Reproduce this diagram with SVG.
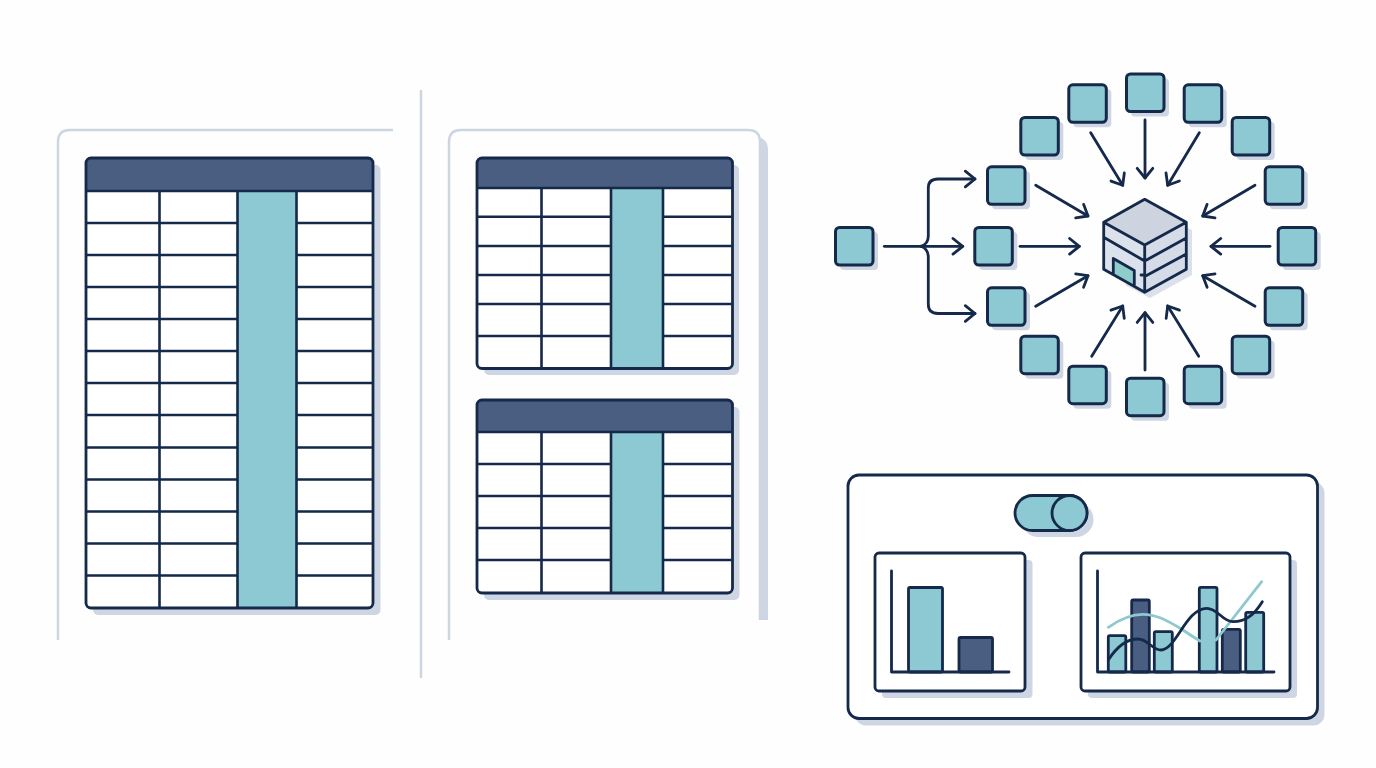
<svg xmlns="http://www.w3.org/2000/svg" width="1376" height="768" viewBox="0 0 1376 768">
<style>
.ink{stroke:#15294b;stroke-width:2.800;stroke-linejoin:round;stroke-linecap:round}
.n{fill:#8cc9d2;stroke:#15294b;stroke-width:3}
.s{fill:#cfd6e3;stroke:none}
.teal{fill:#8cc9d2}.dark{fill:#4a5e82}.white{fill:#fff}
.guide{fill:none;stroke:#cdd5e0;stroke-width:2.500}
.c{fill:none;stroke:#15294b;stroke-width:2.800;stroke-linecap:round;stroke-linejoin:round}
.g{fill:none;stroke:#15294b;stroke-width:2.600;stroke-linecap:butt}
</style>
<defs>
<marker id="a" markerUnits="userSpaceOnUse" markerWidth="24" markerHeight="24" refX="12" refY="12" orient="auto" overflow="visible"><path d="M2.300 4.200L12 12L2.300 19.800" fill="none" stroke="#15294b" stroke-width="2.800" stroke-linecap="round" stroke-linejoin="round"/></marker>
<g id="node"><rect class="s" x="-14" y="-14" width="38" height="38" rx="4"/><rect class="n" x="-18.500" y="-18.500" width="37.500" height="37.500" rx="4"/></g>
</defs>
<rect width="1376" height="768" fill="#fefefe"/>
<g id="guides">
<path class="guide" d="M58 640V142Q58 130 70 130H393"/>
<path class="guide" d="M421 90V678"/>
<path class="s" d="M758 137Q768 139 768 150V620H759V137Z"/>
<path class="guide" d="M449 640V142Q449 130 461 130H748Q760 130 760 142V620"/>
</g>
<g id="table-left">
<rect class="s" x="93" y="165" width="287.500" height="450" rx="5"/>
<rect class="white" x="86" y="158" width="287" height="450" rx="5"/>
<rect class="teal" x="237.500" y="191" width="59" height="417"/>
<path class="dark" d="M86 191V163a5 5 0 0 1 5-5H368a5 5 0 0 1 5 5V191Z"/>
<path class="g" d="M86 191H373M86 223H237M86 255H237M86 287H237M86 319H237M86 351H237M86 383H237M86 415H237M86 447.500H237M86 479.500H237M86 511.500H237M86 543.500H237M86 575.500H237M297 223H373M297 255H373M297 287H373M297 319H373M297 351H373M297 383H373M297 415H373M297 447.500H373M297 479.500H373M297 511.500H373M297 543.500H373M297 575.500H373M159.500 191V608M237.500 191V608M296.500 191V608"/>
<rect class="c" x="86" y="158" width="287" height="450" rx="5"/>
</g>
<g id="table-top">
<rect class="s" x="484" y="165" width="255" height="210" rx="5"/>
<rect class="white" x="477" y="158" width="255.500" height="210.500" rx="5"/>
<rect class="teal" x="611" y="188" width="52" height="180"/>
<path class="dark" d="M477 188V163a5 5 0 0 1 5-5H727.500a5 5 0 0 1 5 5V188Z"/>
<path class="g" d="M477 188H732.500M477 216.700H611M477 246H611M477 275H611M477 304H611M477 336H611M663 216.700H732.500M663 246H732.500M663 275H732.500M663 304H732.500M663 336H732.500M541.500 188V368.500M611 188V368.500M663 188V368.500"/>
<rect class="c" x="477" y="158" width="255.500" height="210.500" rx="5"/>
</g>
<g id="table-bottom">
<rect class="s" x="484" y="407" width="255.500" height="193" rx="5"/>
<rect class="white" x="477" y="400" width="255.500" height="193" rx="5"/>
<rect class="teal" x="611" y="432" width="52" height="161"/>
<path class="dark" d="M477 432V405a5 5 0 0 1 5-5H727.500a5 5 0 0 1 5 5V432Z"/>
<path class="g" d="M477 432H732.500M477 464H611M477 496H611M477 528H611M477 560H611M663 464H732.500M663 496H732.500M663 528H732.500M663 560H732.500M541.500 432V593M611 432V593M663 432V593"/>
<rect class="c" x="477" y="400" width="255.500" height="193" rx="5"/>
</g>
<g id="connectors">
<path class="c" marker-end="url(#a)" d="M1145 120V178"/>
<path class="c" marker-end="url(#a)" d="M1090.700 132.700L1122.700 185.300"/>
<path class="c" marker-end="url(#a)" d="M1199.300 132.700L1167.700 185.300"/>
<path class="c" marker-end="url(#a)" d="M1035.700 185.300L1088 216"/>
<path class="c" marker-end="url(#a)" d="M1255 185.300L1202.700 216"/>
<path class="c" marker-end="url(#a)" d="M1020 246.300H1079.300"/>
<path class="c" marker-end="url(#a)" d="M1270 246.300H1211"/>
<path class="c" marker-end="url(#a)" d="M1035.700 306.300L1088 275.700"/>
<path class="c" marker-end="url(#a)" d="M1255 306.300L1202.700 275.700"/>
<path class="c" marker-end="url(#a)" d="M1091.700 356.300L1122.700 306"/>
<path class="c" marker-end="url(#a)" d="M1145 370V312.700"/>
<path class="c" marker-end="url(#a)" d="M1198.700 356.300L1167.700 306"/>
<path class="c" marker-end="url(#a)" d="M884.300 246.300H962.700"/>
<path class="c" marker-end="url(#a)" d="M921 246.300Q928.300 244 928.300 236V188Q928.300 179 938 179H975"/>
<path class="c" marker-end="url(#a)" d="M921 246.300Q928.300 249 928.300 257V304Q928.300 313.500 938 313.500H975"/>
</g>
<g id="n0"><use href="#node" x="854" y="246"/></g>
<g id="n1"><use href="#node" x="1145" y="92.500"/></g>
<g id="n2"><use href="#node" x="1087.300" y="103.300"/></g>
<g id="n3"><use href="#node" x="1202.700" y="103.300"/></g>
<g id="n4"><use href="#node" x="1039.300" y="136"/></g>
<g id="n5"><use href="#node" x="1250.700" y="136"/></g>
<g id="n6"><use href="#node" x="1006" y="185.300"/></g>
<g id="n7"><use href="#node" x="1283.700" y="185.300"/></g>
<g id="n8"><use href="#node" x="993.300" y="246"/></g>
<g id="n9"><use href="#node" x="1296.700" y="246"/></g>
<g id="n10"><use href="#node" x="1006" y="306.300"/></g>
<g id="n11"><use href="#node" x="1283.700" y="306.300"/></g>
<g id="n12"><use href="#node" x="1039.300" y="354.700"/></g>
<g id="n13"><use href="#node" x="1250.700" y="354.700"/></g>
<g id="n14"><use href="#node" x="1087.300" y="384.700"/></g>
<g id="n15"><use href="#node" x="1202.700" y="384.700"/></g>
<g id="n16"><use href="#node" x="1145" y="396.700"/></g>
<g id="cube">
<path class="s" d="M1150 210L1192 230V275L1150 298L1125 285L1186 222Z" opacity=".75"/>
<path d="M1144.700 199.300L1186.300 222.300V269.300L1144.700 292.300L1103.700 269.300V222.300Z" fill="#dce2eb"/>
<path d="M1144.700 245L1186.300 222.300V269.300L1144.700 292.300Z" fill="#d5dce7"/>
<path d="M1144.700 199.300L1186.300 222.300L1144.700 245L1103.700 222.300Z" fill="#cdd4e0"/>
<path d="M1113.300 258.500L1134.300 270.500V286L1113.300 274.500Z" fill="#8fcdcb"/>
<path class="c" d="M1144.700 199.300L1186.300 222.300V269.300L1144.700 292.300L1103.700 269.300V222.300ZM1103.700 222.300L1144.700 245L1186.300 222.300M1144.700 245V292.300M1103.700 237.300L1144.700 261L1186.300 238M1144.700 276.500L1186.300 254M1113.300 274V258.500L1134.300 270.500V285.500M1141 275H1144.700"/>
</g>
<g id="dashboard">
<rect class="s" x="855" y="482" width="469.500" height="243.500" rx="11"/>
<rect class="white" x="848" y="475" width="469.500" height="243.500" rx="11"/>
<rect class="c" x="848" y="475" width="469.500" height="243.500" rx="11"/>
<g id="toggle">
<rect class="s" x="1021" y="502" width="72.500" height="35" rx="17.500"/>
<rect class="teal" x="1015" y="495.500" width="72" height="35" rx="17.500"/>
<rect class="c" x="1015" y="495.500" width="72" height="35" rx="17.500"/>
<circle class="teal" cx="1069.500" cy="513" r="17.500"/>
<circle class="c" cx="1069.500" cy="513" r="17.500"/>
</g>
<g id="chart-left">
<rect class="s" x="882" y="560" width="150.500" height="138" rx="4"/>
<rect class="white" x="875" y="553" width="150" height="138" rx="4"/>
<rect class="c" x="875" y="553" width="150" height="138" rx="4"/>
<rect class="teal ink" x="908.500" y="587.500" width="34" height="84.500" rx="1.500"/>
<rect class="dark ink" x="959" y="637.500" width="33.500" height="34.500" rx="1.500"/>
<path class="c" d="M891.500 571V672H1009"/>
</g>
<g id="chart-right">
<rect class="s" x="1088" y="560" width="209" height="138" rx="4"/>
<rect class="white" x="1081" y="553" width="209" height="138" rx="4"/>
<rect class="c" x="1081" y="553" width="209" height="138" rx="4"/>
<rect class="teal ink" x="1108.300" y="635.700" width="17.500" height="36.300" rx="1.500"/>
<rect class="dark ink" x="1131.700" y="600" width="17.600" height="72" rx="1.500"/>
<rect class="teal ink" x="1154.300" y="631.700" width="18" height="40.300" rx="1.500"/>
<rect class="teal ink" x="1199.300" y="587.300" width="17.700" height="84.700" rx="1.500"/>
<rect class="dark ink" x="1222.300" y="629.300" width="18" height="42.700" rx="1.500"/>
<rect class="teal ink" x="1245.700" y="612.300" width="18" height="59.700" rx="1.500"/>
<path d="M1108.300 627.300C1120 619 1130 614.300 1143 614.300C1155 614.300 1165 619 1183 630C1190 635 1195 638 1200 641M1216 640L1261.700 581.700" fill="none" stroke="#8fc8cf" stroke-width="2.800" stroke-linecap="round"/>
<path class="c" d="M1108.300 660C1116 648 1126 639 1138 639C1148 639 1152 650 1161 650C1176 650 1186 608.300 1206.700 608.300C1218 608.300 1222 621.700 1233 621.700C1246 621.700 1254 615 1262.300 601.700"/>
<path class="c" d="M1097.500 571V672H1274"/>
</g>
</g>
</svg>
